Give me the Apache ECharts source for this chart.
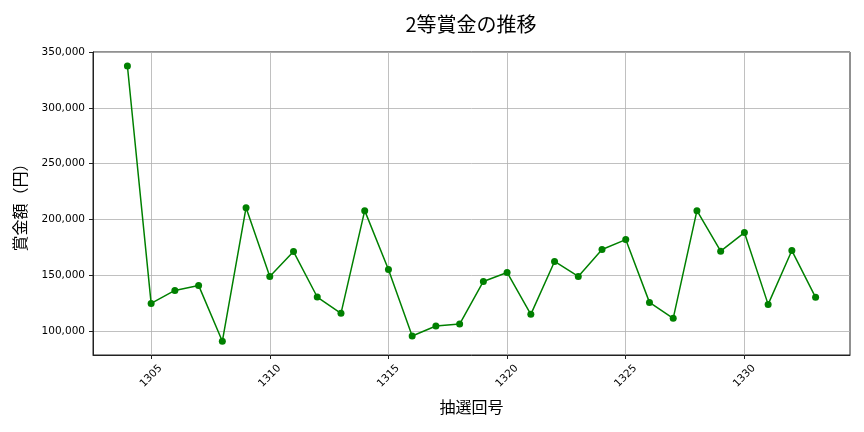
<!DOCTYPE html>
<html><head><meta charset="utf-8">
<script src="https://cdn.jsdelivr.net/npm/echarts@6/dist/echarts.min.js"></script>
<style>html,body{margin:0;padding:0;background:#fff}#c{width:864px;height:432px}</style>
</head><body><div id="c"></div>
<script>
const draws = [1304,1305,1306,1307,1308,1309,1310,1311,1312,1313,1314,1315,1316,1317,1318,1319,1320,1321,1322,1323,1324,1325,1326,1327,1328,1329,1330,1331,1332,1333];
const prizes = [337500,125000,136600,141100,91100,210700,149100,171400,130700,116100,208000,155400,95800,104800,106500,144600,152700,115200,162500,149100,173200,182100,125900,111600,208000,171700,188400,124100,172300,130400];
const xTicks = [1305,1310,1315,1320,1325,1330];
const yTicks = [100000,150000,200000,250000,300000,350000];
const titleText = '2等賞金の推移';
const xName = '抽選回号';
const yName = '賞金額（円）';

const font = '"Noto Sans CJK JP", "Noto Sans", sans-serif';
const numFont = '"DejaVu Sans", sans-serif';
const chart = echarts.init(document.getElementById('c'), null, {renderer:'canvas'});
chart.setOption({
  animation:false,
  backgroundColor:'#fff',
  title:{text:titleText,left:466,textAlign:'center',top:9,textStyle:{fontFamily:font,fontSize:20,fontWeight:'normal',color:'#000'}},
  grid:{left:93,right:14,top:52,bottom:77,show:true,borderColor:'#222',borderWidth:1,backgroundColor:'transparent'},
  xAxis:{type:'value',min:1302.55,max:1334.45,
    name:xName,nameLocation:'middle',nameGap:44,nameTextStyle:{fontFamily:font,fontSize:16,color:'#000'},
    axisLine:{show:true,onZero:false,lineStyle:{color:'#222',width:1}},
    axisTick:{show:true,length:4,lineStyle:{color:'#222'},customValues:xTicks},
    axisLabel:{customValues:xTicks,rotate:45,align:'center',verticalAlign:'middle',fontFamily:numFont,fontSize:10.5,color:'#000',margin:21,formatter:v=>String(v)},
    splitLine:{show:true,lineStyle:{color:'#b0b0b0',width:0.8}}},
  yAxis:{type:'value',min:78800,max:350000,
    name:yName,nameLocation:'middle',nameGap:65,nameRotate:90,nameTextStyle:{fontFamily:font,fontSize:16,color:'#000'},
    axisLine:{show:true,lineStyle:{color:'#222',width:1}},
    axisTick:{show:true,length:4,lineStyle:{color:'#222'},customValues:yTicks},
    axisLabel:{customValues:yTicks,fontFamily:numFont,fontSize:10.5,color:'#000',margin:8,formatter:v=>v.toLocaleString('en-US')},
    splitLine:{show:true,lineStyle:{color:'#b0b0b0',width:0.8}}},
  series:[{type:'line',data:draws.map((d,i)=>[d,prizes[i]]),
    symbol:'circle',symbolSize:7,showAllSymbol:true,
    lineStyle:{color:'#008000',width:1.5},itemStyle:{color:'#008000'}}]
});
</script></body></html>
